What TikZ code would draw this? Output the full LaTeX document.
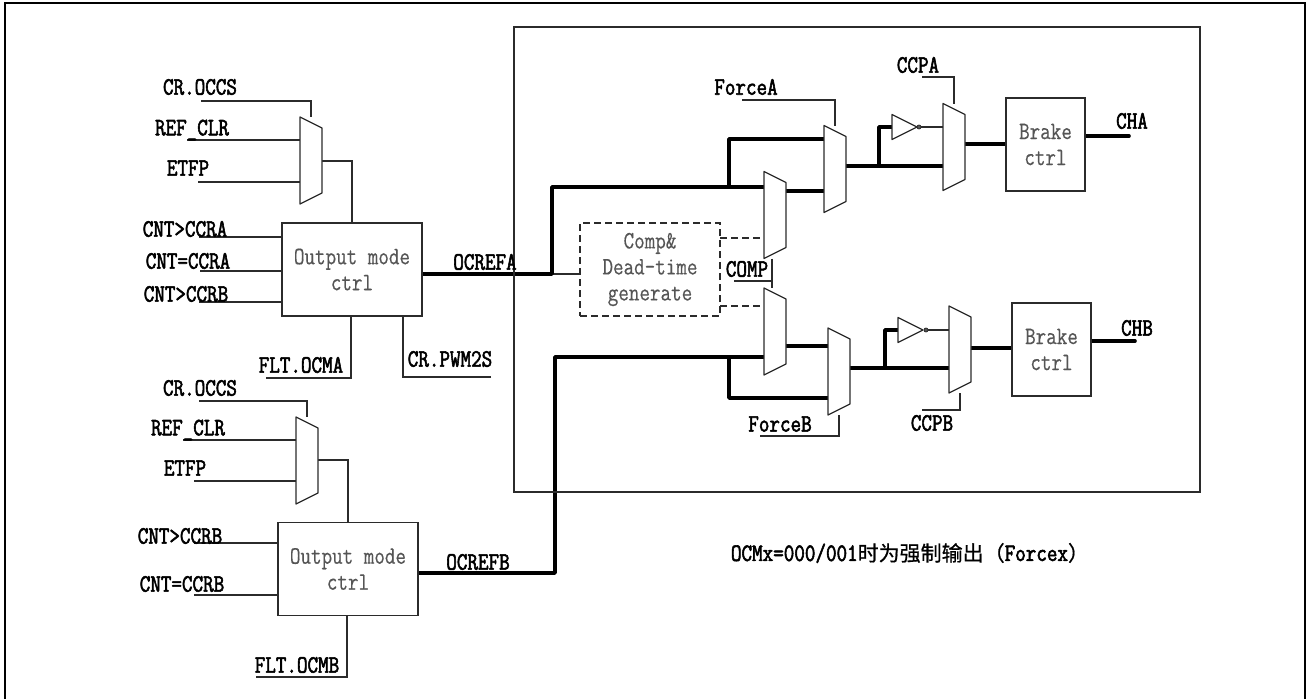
\documentclass[tikz,border=0pt]{standalone}
\usepackage{fontspec}
\newfontfamily\cjkfont[FakeBold=0.8]{Noto Sans CJK SC}
\newfontfamily\sigfont[FakeStretch=0.82,FakeBold=2.2]{Latin Modern Mono}
\newfontfamily\boxfont[FakeStretch=0.82,FakeBold=0.4]{Latin Modern Mono}
\usepackage{tikz}
\usetikzlibrary{backgrounds}
\definecolor{wirec}{HTML}{2B2B2B}
\definecolor{boxtxt}{HTML}{555555}
\newcommand{\muxnode}[2]{%
  \node[muxbox] (#1) at #2 {};
  \draw[gateline] (#1.north west) -- ([yshift=-11pt]#1.north east) -- ([yshift=11pt]#1.south east) -- (#1.south west) -- cycle;}
\newcommand{\invnode}[2]{%
  \node[invbox] (#1) at #2 {};
  \draw[gateline] (#1.north west) -- (#1.east) -- (#1.south west) -- cycle;}

\begin{document}
\begin{tikzpicture}[
  x=1pt, y=-1pt,
  muxbox/.style={inner sep=0pt, outer sep=0pt, minimum width=22pt, minimum height=87pt},
  invbox/.style={inner sep=0pt, outer sep=0pt, minimum width=25pt, minimum height=25pt},
  gateline/.style={draw=wirec, fill=white, line width=1.2pt, line join=round},
  ctrl/.style={draw=wirec, line width=1.2pt, fill=white, minimum width=140pt, minimum height=93pt,
    align=center, text=boxtxt, font=\fontsize{25}{26}\selectfont\boxfont},
  brake/.style={ctrl, minimum width=79pt},
  deadbox/.style={ctrl, dash pattern=on 7pt off 4pt, fill=none},
  bubble/.style={circle, draw=wirec, fill=boxtxt, line width=.8pt, inner sep=0pt, minimum size=4pt},
  sig/.style={font=\fontsize{25}{22}\selectfont\sigfont, inner sep=0pt},
  wire/.style={draw=wirec, line width=1.2pt},
  dashwire/.style={wire, dash pattern=on 7pt off 4pt},
  bus/.style={draw=black, line width=3.6pt, line cap=round, line join=round}
]
  \useasboundingbox (0,0) rectangle (1307,699);

  % frames
  \draw[draw=black, line width=2pt] (5,699) -- (5,3) -- (1305,3) -- (1305,699);
  \node[draw=wirec, line width=1.2pt, minimum width=686pt, minimum height=465pt] (core) at (857,259.5) {};

  % channel A inputs
  \muxnode{muxA}{(311,160.5)}
  \node[ctrl] (ctrlA) at (352,269.5) {Output mode\\ctrl};
  \node[sig] (occsA) at (200,87) {CR.OCCS};
  \node[sig] (clrA) at (192,130) {REF\_CLR};
  \node[sig] (etfpA) at (188,168) {ETFP};
  \node[sig] (gtA) at (185,229) {CNT>CCRA};
  \node[sig] (eqA) at (188,261) {CNT=CCRA};
  \node[sig] (gtbA) at (186,294) {CNT>CCRB};
  \node[sig] (fltA) at (301,365) {FLT.OCMA};
  \node[sig] (pwm) at (450,359) {CR.PWM2S};
  \node[sig] (refA) at (485,262) {OCREFA};

  % channel B inputs
  \muxnode{muxB}{(307,460.5)}
  \node[ctrl] (ctrlB) at (348,569) {Output mode\\ctrl};
  \node[sig] (occsB) at (200,388) {CR.OCCS};
  \node[sig] (clrB) at (188,430) {REF\_CLR};
  \node[sig] (etfpB) at (185,468) {ETFP};
  \node[sig] (gtB) at (180,536) {CNT>CCRB};
  \node[sig] (eqB) at (182,584) {CNT=CCRB};
  \node[sig] (fltB) at (297,665) {FLT.OCMB};
  \node[sig] (refB) at (478,562) {OCREFB};

  % inside the frame, upper half
  \node[deadbox] (dead) at (650,269.5) {Comp\&\\Dead-time\\generate};
  \muxnode{cmpA}{(775,215)}
  \muxnode{forceA}{(835,169)}
  \muxnode{ccA}{(954,147)}
  \invnode{invA}{(904.5,127)}
  \node[bubble] (bubA) at (919,127) {};
  \node[brake] (brkA) at (1045.5,144.5) {Brake\\ctrl};
  \node[sig] (labFA) at (746,87) {ForceA};
  \node[sig] (labPA) at (918,65) {CCPA};
  \node[sig] (labHA) at (1132,121) {CHA};
  \node[sig] (labC) at (747,269) {COMP};

  % inside the frame, lower half
  \muxnode{cmpB}{(775,331.5)}
  \muxnode{forceB}{(839,371.5)}
  \muxnode{ccB}{(960,349.5)}
  \invnode{invB}{(910.5,330)}
  \node[bubble] (bubB) at (926,330) {};
  \node[brake] (brkB) at (1051.5,349.5) {Brake\\ctrl};
  \node[sig] (labFB) at (780,424) {ForceB};
  \node[sig] (labPB) at (932,423) {CCPB};
  \node[sig] (labHB) at (1137,328) {CHB};

  \node[sig] (note) at (910,553)
    {OCMx=000/001{\cjkfont\fontsize{21}{22}\selectfont 时为强制输出（}Forcex{\cjkfont\fontsize{21}{22}\selectfont ）}};

  % free ends and tap points
  \coordinate (occsAs) at (201,101);
  \coordinate (clrAs) at (187,140);
  \coordinate (etfpAs) at (198,182);
  \coordinate (gtAs) at (199,237);
  \coordinate (eqAs) at (200,271);
  \coordinate (gtbAs) at (199,302);
  \coordinate (fltAs) at (266,378);
  \coordinate (fltAt) at (351,378);
  \coordinate (pwmS) at (491,377);
  \coordinate (pwmT) at (403,377);
  \coordinate (muxAo) at (322,161);
  \coordinate (occsBs) at (199,401);
  \coordinate (clrBs) at (183,440);
  \coordinate (etfpBs) at (194,481);
  \coordinate (gtBs) at (194,543);
  \coordinate (eqBs) at (194,595);
  \coordinate (fltBs) at (256,677);
  \coordinate (fltBt) at (347,677);
  \coordinate (muxBo) at (318,460);
  \coordinate (bendA) at (552,274);
  \coordinate (tapA) at (729,187);
  \coordinate (hiA) at (824,139);
  \coordinate (cmpAo) at (786,191);
  \coordinate (forceAo) at (846,166);
  \coordinate (nodeA) at (879,166);
  \coordinate (ccAo) at (965,144);
  \coordinate (brkAo) at (1129,136);
  \coordinate (fAs) at (742,100);
  \coordinate (pAs) at (922,77);
  \coordinate (bendB) at (555,573);
  \coordinate (tapB) at (729,357);
  \coordinate (loB) at (828,398);
  \coordinate (cmpBo) at (786,346);
  \coordinate (forceBo) at (850,368);
  \coordinate (nodeB) at (885,368);
  \coordinate (ccBo) at (971,348);
  \coordinate (brkBo) at (1135,341);
  \coordinate (fBs) at (760,436);
  \coordinate (pBs) at (922,410);
  \coordinate (compS) at (734,281);
  \coordinate (compT) at (772,281);
  \coordinate (deadA) at (720,238);
  \coordinate (deadB) at (720,306);

  \begin{pgfonlayer}{background}
    % control and select lines
    \draw[wire] (occsAs) -| (muxA.north);
    \draw[wire] (clrAs) -- (clrAs -| muxA.west);
    \draw[wire] (etfpAs) -- (etfpAs -| muxA.west);
    \draw[wire] (muxAo) -| (ctrlA.north);
    \draw[wire] (gtAs) -- (gtAs -| ctrlA.west);
    \draw[wire] (eqAs) -- (eqAs -| ctrlA.west);
    \draw[wire] (gtbAs) -- (gtbAs -| ctrlA.west);
    \draw[wire] (fltAs) -- (fltAt) -- (fltAt |- ctrlA.south);
    \draw[wire] (pwmS) -- (pwmT) -- (pwmT |- ctrlA.south);

    \draw[wire] (occsBs) -| (muxB.north);
    \draw[wire] (clrBs) -- (clrBs -| muxB.west);
    \draw[wire] (etfpBs) -- (etfpBs -| muxB.west);
    \draw[wire] (muxBo) -| (ctrlB.north);
    \draw[wire] (gtBs) -- (gtBs -| ctrlB.west);
    \draw[wire] (eqBs) -- (eqBs -| ctrlB.west);
    \draw[wire] (fltBs) -- (fltBt) -- (fltBt |- ctrlB.south);

    \draw[wire] (fAs) -| (forceA.north);
    \draw[wire] (pAs) -| (ccA.north);
    \draw[wire] (fBs) -| (forceB.south);
    \draw[wire] (pBs) -| (ccB.south);
    \draw[wire] (compS) -- (compT);
    \draw[wire] (compT |- cmpA.south) -- (compT |- cmpB.north);
    \draw[wire] (bendA) -- (bendA -| dead.west);
    \draw[dashwire] (deadA) -- (deadA -| cmpA.west);
    \draw[dashwire] (deadB) -- (deadB -| cmpB.west);
    \draw[wire] (bubA.east) -- (bubA -| ccA.west);
    \draw[wire] (bubB.east) -- (bubB -| ccB.west);

    % thick paths, channel A
    \draw[bus] (ctrlA.east |- bendA) -- (bendA) |- (tapA) -- (tapA -| cmpA.west);
    \draw[bus] (tapA) |- (hiA);
    \draw[bus] (cmpAo) -- (cmpAo -| forceA.west);
    \draw[bus] (forceAo) -- (forceAo -| ccA.west);
    \draw[bus] (nodeA) |- (invA.west);
    \draw[bus] (ccAo) -- (ccAo -| brkA.west);
    \draw[bus] (brkA.east |- brkAo) -- (brkAo);

    % thick paths, channel B
    \draw[bus] (ctrlB.east |- bendB) -- (bendB) |- (tapB) -- (tapB -| cmpB.west);
    \draw[bus] (tapB) |- (loB);
    \draw[bus] (cmpBo) -- (cmpBo -| forceB.west);
    \draw[bus] (forceBo) -- (forceBo -| ccB.west);
    \draw[bus] (nodeB) |- (invB.west);
    \draw[bus] (ccBo) -- (ccBo -| brkB.west);
    \draw[bus] (brkB.east |- brkBo) -- (brkBo);
  \end{pgfonlayer}
\end{tikzpicture}
\end{document}
